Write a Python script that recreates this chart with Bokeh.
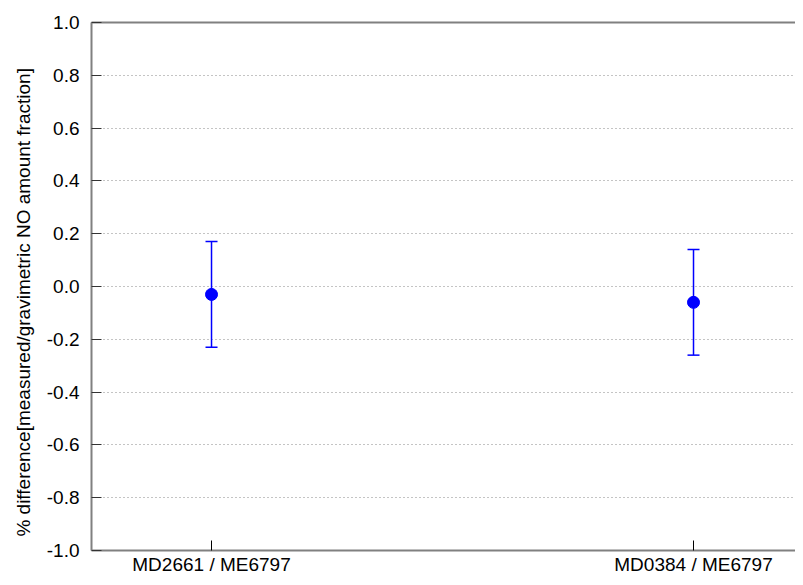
from bokeh.plotting import figure
from bokeh.models import (ColumnDataSource, Whisker, TeeHead, FixedTicker,
                          PrintfTickFormatter, LinearAxis, Range1d)
from bokeh.embed import file_html
from bokeh.resources import INLINE

# ---- data ----
categories = ["MD2661 / ME6797", "MD0384 / ME6797"]
positions = [1, 2]
values = [-0.03, -0.06]
upper = [0.17, 0.14]
lower = [-0.23, -0.26]
y_ticks = [-1.0, -0.8, -0.6, -0.4, -0.2, 0.0, 0.2, 0.4, 0.6, 0.8, 1.0]
y_label = "% difference[measured/gravimetric NO amount fraction]"

FONT = "Liberation Sans"
FS = "19px"
AXIS_COLOR = "#808080"

src = ColumnDataSource(dict(x=positions, y=values, upper=upper, lower=lower))

p = figure(width=795, height=577,
           x_range=Range1d(0.751, 2.2116), y_range=Range1d(-1.0, 1.0),
           output_backend="svg", toolbar_location=None,
           min_border_left=91, min_border_right=0,
           min_border_top=22, min_border_bottom=25,
           x_axis_location="below")
p.outline_line_color = None
p.background_fill_color = "white"
p.border_fill_color = "white"

# x axis
xa = p.xaxis[0]
xa.ticker = FixedTicker(ticks=positions)
xa.major_label_overrides = {pos: cat for pos, cat in zip(positions, categories)}
xa.major_label_text_font = FONT
xa.major_label_text_font_size = FS
xa.major_label_text_color = "black"
xa.major_label_standoff = 3
xa.major_tick_in = 10
xa.major_tick_out = 0
xa.major_tick_line_color = "black"
xa.minor_tick_line_color = None
xa.axis_line_color = AXIS_COLOR
xa.axis_line_width = 2

# y axis
ya = p.yaxis[0]
ya.ticker = FixedTicker(ticks=y_ticks)
ya.formatter = PrintfTickFormatter(format="%.1f")
ya.major_label_text_font = FONT
ya.major_label_text_font_size = FS
ya.major_label_text_color = "black"
ya.major_label_standoff = 12
ya.major_tick_in = 10
ya.major_tick_out = 0
ya.major_tick_line_color = "#333333"
ya.minor_tick_line_color = None
ya.axis_line_color = AXIS_COLOR
ya.axis_line_width = 2
ya.axis_label = y_label + "\u00a0" * 6
ya.axis_label_text_font = FONT
ya.axis_label_text_font_size = FS
ya.axis_label_text_font_style = "normal"
ya.axis_label_text_color = "black"
ya.axis_label_standoff = 10

# top border line (no ticks, no labels)
ta = LinearAxis(ticker=FixedTicker(ticks=[]),
                major_tick_in=0, major_tick_out=0,
                minor_tick_line_color=None,
                major_label_standoff=0,
                axis_line_color=AXIS_COLOR, axis_line_width=2)
p.add_layout(ta, "above")

# grid
p.xgrid.grid_line_color = None
p.ygrid.ticker = FixedTicker(ticks=y_ticks[1:-1])
p.ygrid.grid_line_color = "#888888"
p.ygrid.grid_line_dash = "1 3"
p.ygrid.grid_line_width = 1

# error bars
wh = Whisker(base="x", upper="upper", lower="lower", source=src,
             line_color="blue", line_width=1.5, level="glyph",
             upper_head=TeeHead(size=12, line_color="blue", line_width=1.5),
             lower_head=TeeHead(size=12, line_color="blue", line_width=1.5))
p.add_layout(wh)

p.scatter("x", "y", source=src, size=12, marker="circle",
          fill_color="blue", line_color="blue")

open("out.html", "w").write(file_html(p, INLINE))
